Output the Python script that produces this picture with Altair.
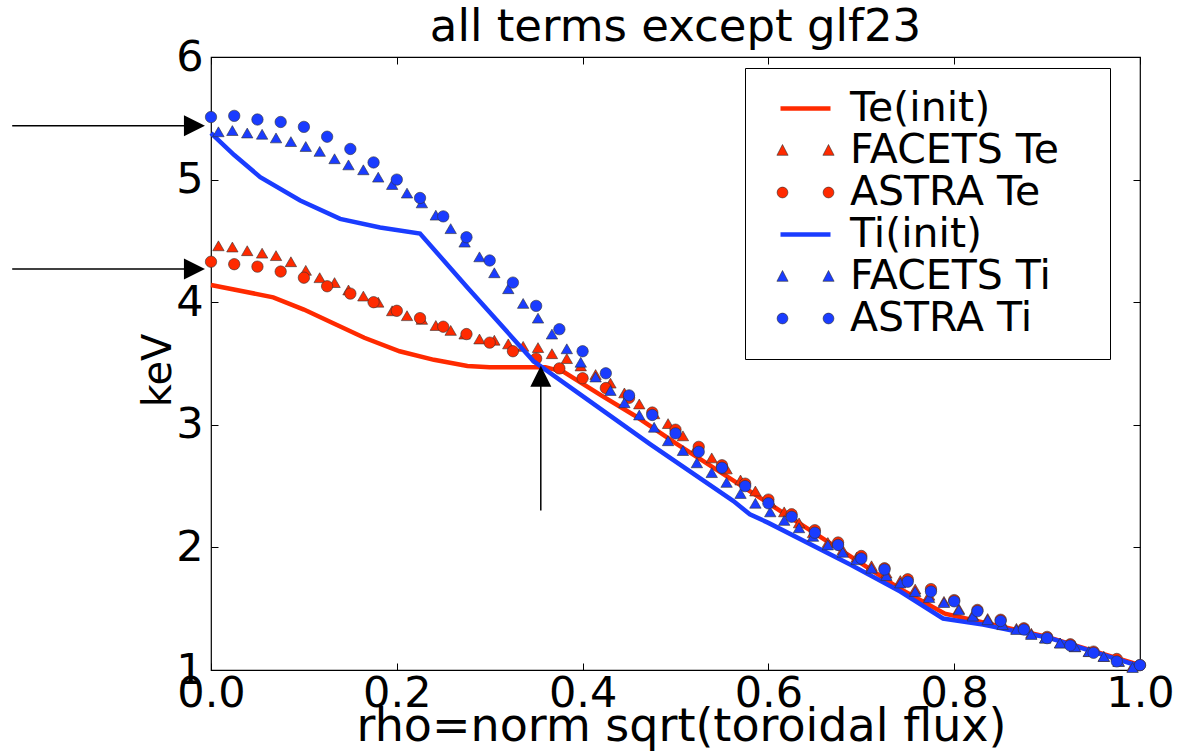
import altair as alt
import pandas as pd

# ---------------- data ----------------
series_names = ["Te(init)", "FACETS Te", "ASTRA Te", "Ti(init)", "FACETS Ti", "ASTRA Ti"]
RED = "#ff2a00"
BLUE = "#1a3cff"
EDGE = "#333333"
series_fill = [RED, RED, RED, BLUE, BLUE, BLUE]

te_init_x = [0.0, 0.067, 0.10, 0.131, 0.165, 0.203, 0.24, 0.276, 0.30, 0.36, 0.38, 0.42, 0.455, 0.50, 0.60, 0.70, 0.742, 0.79, 0.83, 0.90, 1.0]
te_init_y = [4.14, 4.04, 3.94, 3.83, 3.71, 3.60, 3.53, 3.48, 3.47, 3.47, 3.43, 3.24, 3.08, 2.85, 2.36, 1.87, 1.66, 1.46, 1.39, 1.27, 1.04]

ti_init_x = [0.0, 0.025, 0.053, 0.096, 0.139, 0.182, 0.225, 0.276, 0.347, 0.397, 0.473, 0.562, 0.58, 0.60, 0.688, 0.742, 0.788, 0.831, 0.903, 1.0]
ti_init_y = [5.38, 5.20, 5.02, 4.83, 4.68, 4.61, 4.56, 4.12, 3.52, 3.25, 2.84, 2.38, 2.27, 2.20, 1.86, 1.64, 1.42, 1.37, 1.26, 1.03]

facets_x = [0.008, 0.023, 0.039, 0.055, 0.070, 0.086, 0.102, 0.117, 0.133, 0.148,
            0.164, 0.180, 0.195, 0.211, 0.227, 0.242, 0.258, 0.273, 0.289, 0.305,
            0.320, 0.336, 0.352, 0.367, 0.383, 0.398, 0.414, 0.430, 0.445, 0.461,
            0.477, 0.492, 0.508, 0.523, 0.539, 0.555, 0.570, 0.586, 0.602, 0.617,
            0.633, 0.648, 0.664, 0.680, 0.695, 0.711, 0.727, 0.742, 0.758, 0.773,
            0.789, 0.805, 0.820, 0.836, 0.852, 0.867, 0.883, 0.898, 0.914, 0.930,
            0.945, 0.961, 0.977, 0.992]

facets_te = [4.46, 4.45, 4.42, 4.40, 4.38, 4.33, 4.26, 4.20, 4.16, 4.10,
             4.05, 4.00, 3.93, 3.89, 3.86, 3.81, 3.77, 3.74, 3.70, 3.69,
             3.66, 3.64, 3.63, 3.58, 3.54, 3.48, 3.41, 3.34, 3.26, 3.17,
             3.09, 3.01, 2.91, 2.82, 2.73, 2.64, 2.55, 2.46, 2.37, 2.29,
             2.20, 2.12, 2.04, 1.98, 1.92, 1.85, 1.79, 1.73, 1.66, 1.61,
             1.56, 1.50, 1.45, 1.42, 1.38, 1.34, 1.30, 1.26, 1.22, 1.19,
             1.15, 1.11, 1.07, 1.03]

facets_ti = [5.39, 5.40, 5.38, 5.37, 5.34, 5.31, 5.27, 5.23, 5.17, 5.12,
             5.08, 5.02, 4.96, 4.89, 4.81, 4.71, 4.60, 4.49, 4.37, 4.24,
             4.11, 3.99, 3.87, 3.74, 3.62, 3.51, 3.39, 3.28, 3.18, 3.08,
             2.98, 2.87, 2.79, 2.69, 2.61, 2.53, 2.44, 2.36, 2.29, 2.22,
             2.16, 2.09, 2.02, 1.96, 1.90, 1.83, 1.77, 1.71, 1.64, 1.59,
             1.55, 1.49, 1.44, 1.41, 1.37, 1.33, 1.29, 1.26, 1.22, 1.19,
             1.15, 1.11, 1.07, 1.02]

astra_x = [0.000, 0.025, 0.050, 0.075, 0.100, 0.125, 0.150, 0.175, 0.200, 0.225,
           0.250, 0.275, 0.300, 0.325, 0.350, 0.375, 0.400, 0.425, 0.450, 0.475,
           0.500, 0.525, 0.550, 0.575, 0.600, 0.625, 0.650, 0.675, 0.700, 0.725,
           0.750, 0.775, 0.800, 0.825, 0.850, 0.875, 0.900, 0.925, 0.950, 0.975,
           1.000]

astra_te = [4.33, 4.31, 4.29, 4.25, 4.20, 4.13, 4.07, 4.00, 3.93, 3.87,
            3.80, 3.74, 3.67, 3.60, 3.54, 3.46, 3.38, 3.30, 3.22, 3.10,
            2.96, 2.82, 2.67, 2.52, 2.39, 2.27, 2.14, 2.04, 1.93, 1.83,
            1.74, 1.66, 1.57, 1.49, 1.41, 1.34, 1.27, 1.21, 1.15, 1.09,
            1.04]

astra_ti = [5.51, 5.52, 5.49, 5.47, 5.43, 5.35, 5.25, 5.14, 5.00, 4.85,
            4.70, 4.53, 4.34, 4.16, 3.97, 3.78, 3.60, 3.42, 3.24, 3.08,
            2.93, 2.78, 2.65, 2.50, 2.36, 2.25, 2.12, 2.02, 1.91, 1.82,
            1.72, 1.64, 1.56, 1.48, 1.40, 1.33, 1.26, 1.20, 1.14, 1.07,
            1.04]

# annotation arrows (data coordinates)
arrow_x = [-0.214, -0.214, 0.355]
arrow_x2 = [-0.022, -0.022, 0.355]
arrow_y = [5.44, 4.27, 2.30]
arrow_y2 = [5.44, 4.27, 3.40]
head_x = [-0.0178, -0.0178, 0.355]
head_y = [5.44, 4.27, 3.396]
head_shape = ["M-1,-1L1,0L-1,1Z", "M-1,-1L1,0L-1,1Z", "M-1,1L0,-1L1,1Z"]

# legend glyphs (line sample, or two markers, per entry)
LINE_GLYPH = "M-1.25,0L1.25,0"
TRI_PAIR = "M-1.43,0.24L-0.87,0.24L-1.15,-0.3ZM0.87,0.24L1.43,0.24L1.15,-0.3Z"
CIRC_PAIR = ("M-1.42,0A0.27,0.27 0 1,0 -0.88,0A0.27,0.27 0 1,0 -1.42,0Z"
             "M0.88,0A0.27,0.27 0 1,0 1.42,0A0.27,0.27 0 1,0 0.88,0Z")

# ---------------- frames ----------------
rows = []
for name, xs, ys in [
    ("Te(init)", te_init_x, te_init_y),
    ("FACETS Te", facets_x, facets_te),
    ("ASTRA Te", astra_x, astra_te),
    ("Ti(init)", ti_init_x, ti_init_y),
    ("FACETS Ti", facets_x, facets_ti),
    ("ASTRA Ti", astra_x, astra_ti),
]:
    for xv, yv in zip(xs, ys):
        rows.append({"series": name, "x": xv, "y": yv})
df = pd.DataFrame(rows)

arrows = pd.DataFrame({"x": arrow_x, "x2": arrow_x2, "y": arrow_y, "y2": arrow_y2})
heads = pd.DataFrame({"x": head_x, "y": head_y, "shape": head_shape})

W, H = 929, 613

xscale = alt.Scale(domain=[0, 1], nice=False, zero=False)
yscale = alt.Scale(domain=[1, 6], nice=False, zero=False)

xaxis = alt.Axis(
    values=[0, 0.2, 0.4, 0.6, 0.8, 1.0], format=".1f",
    title="rho=norm sqrt(toroidal flux)", titleFontSize=46, titleFontWeight="normal",
    titleColor="black", titleX=470, titleY=70, titleBaseline="alphabetic", titleAlign="center",
    labelFontSize=43, labelColor="black", labelPadding=2, labelFlush=False, labelOverlap=False,
    domain=False, ticks=False, tickSize=0,
    grid=True, gridColor="black", gridOpacity=1, gridWidth=1, gridDash=[7, H - 14, 7, 3000],
)
yaxis = alt.Axis(
    values=[1, 2, 3, 4, 5, 6], format="d",
    title="keV", titleFontSize=40, titleFontWeight="normal", titleColor="black",
    titleX=-41, titleY=313, titleBaseline="alphabetic", titleAlign="center", titleAngle=270,
    labelFontSize=43, labelColor="black", labelPadding=8, labelFlush=False, labelOverlap=False,
    domain=False, ticks=False, tickSize=0,
    grid=True, gridColor="black", gridOpacity=1, gridWidth=1, gridDash=[7, W - 14, 7, 3000],
)

is_line = "(datum.value == 'Te(init)' || datum.value == 'Ti(init)')"
is_tri = "(indexof(datum.value, 'FACETS') == 0)"
line_col = f"(indexof(datum.value, 'Te') >= 0 ? '{RED}' : '{BLUE}')"

legend = alt.Legend(
    title=None, orient="none", legendX=534, legendY=11, direction="vertical",
    fillColor="white", strokeColor="black", padding=20,
    symbolSize=1600, symbolOffset=20, labelOffset=24, symbolOpacity=1,
    symbolType=alt.ExprRef(f"{is_line} ? '{LINE_GLYPH}' : ({is_tri} ? '{TRI_PAIR}' : '{CIRC_PAIR}')"),
    symbolStrokeColor=alt.ExprRef(f"{is_line} ? {line_col} : '{EDGE}'"),
    symbolStrokeWidth=alt.ExprRef(f"{is_line} ? 4.5 : 0.6"),
    labelFontSize=41, labelFont="DejaVu Sans", labelColor="black", labelLimit=600,
    rowPadding=0, labelExpr="datum.label + '\u2800'",
)

X = alt.X("x:Q", scale=xscale, axis=xaxis)
Y = alt.Y("y:Q", scale=yscale, axis=yaxis)

base = alt.Chart(df)


def line_layer(name, col):
    return base.transform_filter(alt.datum.series == name).mark_line(
        strokeWidth=4.5, color=col
    ).encode(X, Y)


def point_layer(name, shape, col):
    return base.transform_filter(alt.datum.series == name).mark_point(
        shape=shape, filled=True, size=130, fill=col, stroke=EDGE, strokeWidth=0.6, opacity=1
    ).encode(X, Y)


# empty layer that only carries the legend
legend_layer = base.transform_filter("false").mark_point(filled=True, opacity=1).encode(
    X, Y,
    color=alt.Color("series:N", scale=alt.Scale(domain=series_names, range=series_fill), legend=legend),
)

arrow_lines = alt.Chart(arrows).mark_rule(color="black", strokeWidth=1.5, clip=False).encode(
    x=alt.X("x:Q", scale=xscale, axis=xaxis), x2="x2:Q",
    y=alt.Y("y:Q", scale=yscale, axis=yaxis), y2="y2:Q",
)
arrow_heads = alt.Chart(heads).mark_point(filled=True, color="black", size=441, opacity=1, clip=False).encode(
    x=alt.X("x:Q", scale=xscale, axis=xaxis),
    y=alt.Y("y:Q", scale=yscale, axis=yaxis),
    shape=alt.Shape("shape:N", scale=None, legend=None),
)

chart = alt.layer(
    line_layer("Te(init)", RED),
    point_layer("FACETS Te", "triangle-up", RED),
    point_layer("ASTRA Te", "circle", RED),
    line_layer("Ti(init)", BLUE),
    point_layer("FACETS Ti", "triangle-up", BLUE),
    point_layer("ASTRA Ti", "circle", BLUE),
    arrow_lines,
    arrow_heads,
    legend_layer,
).properties(
    width=W, height=H,
    title=alt.TitleParams(
        "all terms except glf23", fontSize=45, font="DejaVu Sans", fontWeight="normal",
        color="black", anchor="middle", offset=-14,
    ),
    autosize=alt.AutoSizeParams(type="none"),
    padding={"left": 211, "top": 57, "right": 38, "bottom": 82},
).configure(
    font="DejaVu Sans", background="white"
).configure_view(
    stroke="black", strokeWidth=1.2
)

chart.save("out.html", embed_options={"renderer": "svg", "actions": False})
